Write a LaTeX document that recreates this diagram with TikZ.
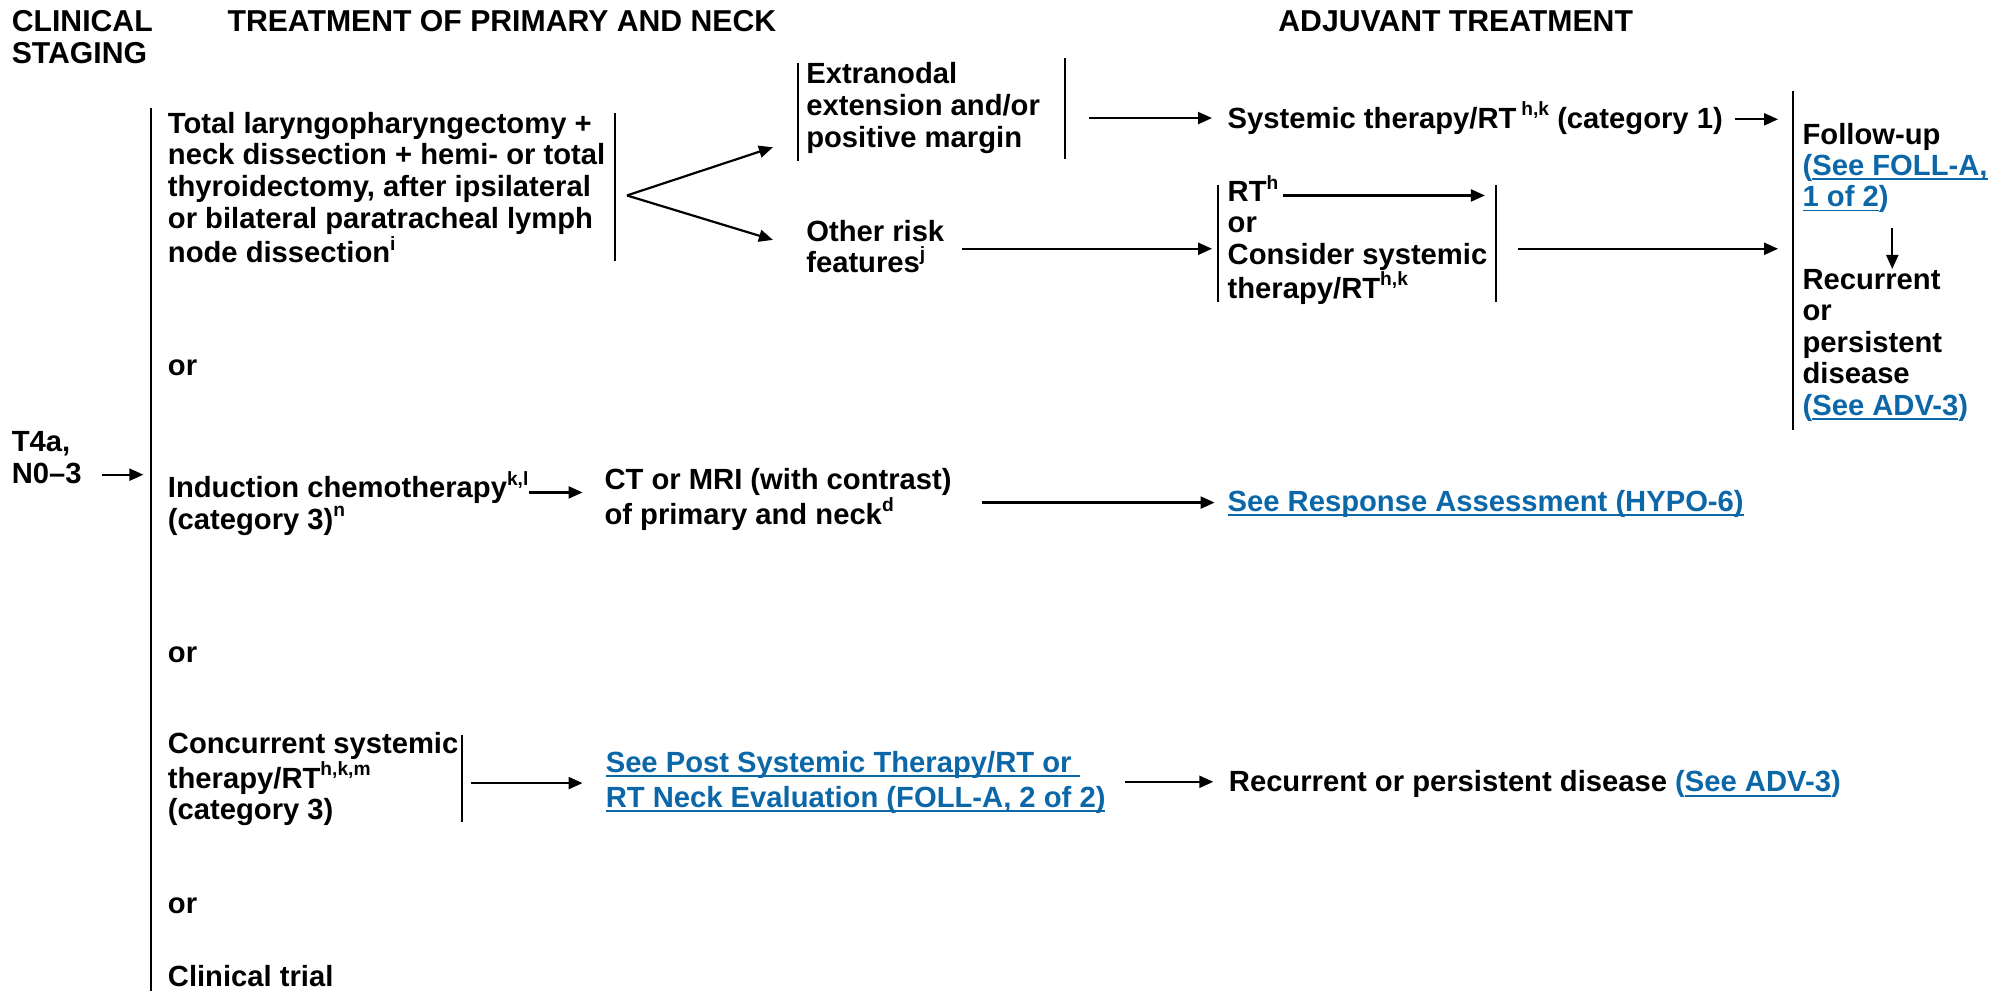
\documentclass[tikz,border=0pt]{standalone}
\usepackage{fontspec}
\setmainfont{Liberation Sans}
\usetikzlibrary{arrows.meta}
\definecolor{linkblue}{HTML}{0B67A8}
% superscript footnote letters
\newcommand\spx[1]{\raisebox{0.42em}{\fontsize{9.6pt}{9.6pt}\selectfont #1}}
% underlined cross-reference and blue punctuation
\newcommand\lnk[1]{{\color{linkblue}\setbox0\hbox{#1}\rlap{\rule[-2.3pt]{\wd0}{0.9pt}}\box0}}
\newcommand\lbl[1]{{\color{linkblue}#1}}

\begin{document}
% text nodes are placed by the baseline of their last line
\begin{tikzpicture}[x=0.634566pt,y=-0.634566pt,
  txt/.style={anchor=base west, inner sep=0pt, align=left,
    font=\bfseries\fontsize{14.6pt}{15.9pt}\selectfont},
  head/.style={anchor=base west, inner sep=0pt, align=left,
    font=\bfseries\fontsize{15.1pt}{15.9pt}\selectfont},
  bar/.style={line width=1pt},
  arr/.style={line width=1.1pt, -{Triangle[length=7pt,width=6pt]}},
]
\useasboundingbox (0,0) rectangle (1568,781);

% column headings
\node[head] (hcs)  at (9,50)    {CLINICAL\\STAGING};
\node[head] (htr)  at (179,25)  {TREATMENT OF PRIMARY AND NECK};
\node[head] (hadj) at (1007,25) {ADJUVANT TREATMENT};

% clinical staging
\node[txt] (stage) at (9,381) {T4a,\\N0–3};
\coordinate (stA) at (80,374);
\coordinate (stB) at (113,374);
\draw[arr] (stA) -- (stB);

% main bracket of treatment options
\coordinate (mb1) at (119,85);
\coordinate (mb2) at (119,781);
\draw[bar] (mb1) -- (mb2);

% option 1: surgery
\node[txt] (surg) at (132,207) {Total laryngopharyngectomy +\\neck dissection + hemi- or total\\thyroidectomy, after ipsilateral\\or bilateral paratracheal lymph\\node dissection\spx{i}};
\coordinate (sb1) at (484.5,89);
\coordinate (sb2) at (484.5,206);
\draw[bar] (sb1) -- (sb2);
\coordinate (fork) at (494,154);
\coordinate (forkA) at (609,116);
\coordinate (forkB) at (609,189);
\draw[arr] (fork) -- (forkA);
\draw[arr] (fork) -- (forkB);

\node[txt] (ene) at (635,116) {Extranodal\\extension and/or\\positive margin};
\coordinate (eb1) at (629,50);  \coordinate (eb2) at (629,127);
\coordinate (eb3) at (839,46);  \coordinate (eb4) at (839,125);
\draw[bar] (eb1) -- (eb2);
\draw[bar] (eb3) -- (eb4);
\coordinate (eneA) at (858,93);
\coordinate (eneB) at (955,93);
\draw[arr] (eneA) -- (eneB);

\node[txt] (sys1) at (967,101) {Systemic therapy/RT\,\spx{h,k} (category 1)};
\coordinate (sysA) at (1367,94);
\coordinate (sysB) at (1401,94);
\draw[arr] (sysA) -- (sysB);

\node[txt] (other) at (635,215) {Other risk\\features\spx{j}};
\coordinate (othA) at (758,196);
\coordinate (othB) at (955,196);
\draw[arr] (othA) -- (othB);

\node[txt, font=\bfseries\fontsize{14.6pt}{15.6pt}\selectfont] (rt) at (967,235) {RT\spx{h}\\or\\Consider systemic\\therapy/RT\spx{h,k}};
\coordinate (rb1) at (960,146);  \coordinate (rb2) at (960,238);
\coordinate (rb3) at (1179,146); \coordinate (rb4) at (1179,238);
\draw[bar] (rb1) -- (rb2);
\draw[bar] (rb3) -- (rb4);
\coordinate (rtA) at (1011,154);
\coordinate (rtB) at (1170,154);
\draw[arr] (rtA) -- (rtB);
\coordinate (rtC) at (1196,196);
\coordinate (rtD) at (1401,196);
\draw[arr] (rtC) -- (rtD);

% follow-up column
\coordinate (fb1) at (1413,72);
\coordinate (fb2) at (1413,339);
\draw[bar] (fb1) -- (fb2);
\node[txt, font=\bfseries\fontsize{14.6pt}{15.7pt}\selectfont] (fu) at (1420,163) {Follow-up\\\lbl{(}\lnk{See FOLL-A,}\\\lnk{1 of 2}\lbl{)}};
\node[txt, font=\bfseries\fontsize{14.6pt}{15.7pt}\selectfont] (rec) at (1420,327) {Recurrent\\or\\persistent\\disease\\\lbl{(}\lnk{See ADV-3}\lbl{)}};
\coordinate (fuA) at (1491,180);
\draw[arr] (fuA) -- (rec.north -| fuA);

\node[txt] (or1) at (132,296) {or};

% option 2: induction chemotherapy
\node[txt] (ind) at (132,417) {Induction chemotherapy\spx{k,l}\\(category 3)\spx{n}};
\coordinate (indA) at (417,388);
\coordinate (indB) at (459,388);
\draw[arr] (indA) -- (indB);
\node[txt] (ct) at (476,413) {CT or MRI (with contrast)\\of primary and neck\spx{d}};
\coordinate (ctA) at (774,396);
\coordinate (ctB) at (957,396);
\draw[arr] (ctA) -- (ctB);
\node[txt] (hypo) at (967,403) {\lnk{See Response Assessment (HYPO-6)}};

\node[txt] (or2) at (132,522) {or};

% option 3: concurrent systemic therapy/RT
\node[txt] (crt) at (132,646) {Concurrent systemic\\therapy/RT\spx{h,k,m}\\(category 3)};
\coordinate (cb1) at (364,579);
\coordinate (cb2) at (364,647.5);
\draw[bar] (cb1) -- (cb2);
\coordinate (crtA) at (371,617);
\coordinate (crtB) at (459,617);
\draw[arr] (crtA) -- (crtB);
\node[txt, font=\bfseries\fontsize{14.6pt}{17.5pt}\selectfont] (post) at (477,636) {\lnk{See Post Systemic Therapy/RT or\ }\\\lnk{RT Neck Evaluation (FOLL-A, 2 of 2)}};
\coordinate (postA) at (886.5,616);
\coordinate (postB) at (956,616);
\draw[arr] (postA) -- (postB);
\node[txt] (rec2) at (968,624) {Recurrent or persistent disease \lbl{(}\lnk{See ADV-3}\lbl{)}};

\node[txt] (or3) at (132,720) {or};

% option 4
\node[txt] (trial) at (132,777.5) {Clinical trial};
\end{tikzpicture}
\end{document}
